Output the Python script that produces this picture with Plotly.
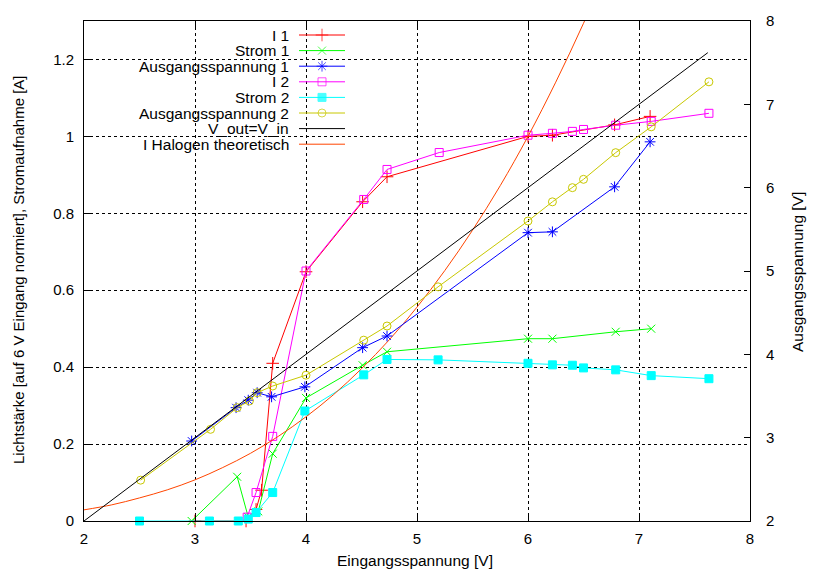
import plotly.graph_objects as go

# ---------------- data ----------------
i1_x = [3.0, 3.46, 3.55, 3.6, 3.70, 4.0, 4.51, 4.73, 6.0, 6.22, 6.78, 7.1]
i1_y = [0.0, 0.0, 0.03, 0.08, 0.41, 0.648, 0.83, 0.895, 1.0, 1.003, 1.03, 1.052]

s1_x = [2.97, 3.38, 3.48, 3.57, 3.70, 4.0, 4.51, 4.73, 6.0, 6.22, 6.79, 7.11]
s1_y = [0.0, 0.115, 0.01, 0.025, 0.175, 0.32, 0.405, 0.44, 0.474, 0.474, 0.492, 0.5]

a1_x = [2.97, 3.37, 3.48, 3.56, 3.69, 3.99, 4.51, 4.73, 6.0, 6.22, 6.78, 7.1]
a1_y = [2.96, 3.36, 3.45, 3.54, 3.49, 3.61, 4.08, 4.22, 5.46, 5.47, 6.01, 6.55]

i2_x = [3.42, 3.47, 3.55, 3.70, 4.0, 4.52, 4.73, 5.2, 6.0, 6.22, 6.4, 6.5, 6.79, 7.11, 7.63]
i2_y = [-0.03, 0.01, 0.074, 0.22, 0.65, 0.836, 0.914, 0.958, 1.003, 1.008, 1.013, 1.018, 1.029, 1.039, 1.06]

s2_x = [2.5, 3.13, 3.39, 3.48, 3.55, 3.70, 3.99, 4.52, 4.73, 5.19, 6.0, 6.22, 6.4, 6.5, 6.79, 7.11, 7.63]
s2_y = [0.0, 0.0, 0.0, 0.005, 0.022, 0.074, 0.286, 0.38, 0.42, 0.419, 0.41, 0.406, 0.405, 0.398, 0.393, 0.378, 0.37]

a2_x = [2.51, 3.14, 3.38, 3.49, 3.56, 3.70, 4.0, 4.52, 4.73, 5.19, 6.0, 6.22, 6.4, 6.5, 6.79, 7.11, 7.63]
a2_y = [2.49, 3.10, 3.36, 3.44, 3.54, 3.62, 3.75, 4.17, 4.34, 4.81, 5.6, 5.83, 6.0, 6.1, 6.42, 6.73, 7.27]

ident_x = [2.0, 7.62]
ident_y = [2.0, 7.62]

hal_x = [2.0, 2.25, 2.5, 2.75, 3.0, 3.25, 3.5, 3.75, 4.0, 4.25, 4.5, 4.75,
         5.0, 5.25, 5.5, 5.75, 6.0, 6.25, 6.5, 6.75]
hal_y = [0.029, 0.042, 0.060, 0.081, 0.107, 0.139, 0.176, 0.220, 0.271, 0.329, 0.396, 0.471,
         0.556, 0.651, 0.756, 0.872, 1.0, 1.141, 1.294, 1.46]

y_ticks = [0, 0.2, 0.4, 0.6, 0.8, 1.0, 1.2]
y_ticklabels = ["0", "0.2", "0.4", "0.6", "0.8", "1", "1.2"]
x_ticks = [2, 3, 4, 5, 6, 7, 8]
y2_ticks = [2, 3, 4, 5, 6, 7, 8]

# ---------------- styles ----------------
FONT = "Liberation Sans"
FS = 15
FS_KEY = 15.5
RED = "#ff0000"
GREEN = "#00ff00"
BLUE = "#0000ff"
MAGENTA = "#ff00ff"
CYAN = "#00ffff"
YELLOW = "#c8c800"
BLACK = "#000000"
ORANGE = "#ff4500"

W, H = 814, 570
L, R, T, B = 84, 64, 21, 49
PW, PH = W - L - R, H - T - B


def px(xp):
    return (xp - L) / PW


def py(yp):
    return (H - B - yp) / PH


series = [
    ("I 1", i1_x, i1_y, "y", RED, "cross-thin-open", 9),
    ("Strom 1", s1_x, s1_y, "y", GREEN, "x-thin-open", 8),
    ("Ausgangsspannung 1", a1_x, a1_y, "y2", BLUE, "asterisk-open", 9),
    ("I 2", i2_x, i2_y, "y", MAGENTA, "square-open", 8),
    ("Strom 2", s2_x, s2_y, "y", CYAN, "square", 8),
    ("Ausgangsspannung 2", a2_x, a2_y, "y2", YELLOW, "circle-open", 8),
]

fig = go.Figure()

for name, xs, ys, ax, col, sym, sz in series:
    fig.add_trace(go.Scatter(
        x=xs, y=ys, yaxis=ax, name=name, mode="lines+markers",
        line=dict(color=col, width=1),
        marker=dict(symbol=sym, size=sz, color=col, line=dict(color=col, width=1)),
        cliponaxis=(name == "I 2"), showlegend=False,
    ))

fig.add_trace(go.Scatter(x=ident_x, y=ident_y, yaxis="y2", name="V_out=V_in",
                         mode="lines", line=dict(color=BLACK, width=1), showlegend=False))
fig.add_trace(go.Scatter(x=hal_x, y=hal_y, yaxis="y", name="I Halogen theoretisch",
                         mode="lines", line=dict(color=ORANGE, width=1, shape="spline"),
                         showlegend=False))

# ---------------- custom gnuplot-style key (text left, sample right) ----------------
legend_rows = [
    ("I 1", RED, "cross-thin-open", 9),
    ("Strom 1", GREEN, "x-thin-open", 8),
    ("Ausgangsspannung 1", BLUE, "asterisk-open", 9),
    ("I 2", MAGENTA, "square-open", 8),
    ("Strom 2", CYAN, "square", 8),
    ("Ausgangsspannung 2", YELLOW, "circle-open", 8),
    ("V_out=V_in", BLACK, None, 0),
    ("I Halogen theoretisch", ORANGE, None, 0),
]
row0, row_step = 35.0, 15.6
annotations = []
for k, (label, col, sym, sz) in enumerate(legend_rows):
    yy = row0 + k * row_step
    fig.add_trace(go.Scatter(
        x=[299, 322, 345], y=[yy, yy, yy], xaxis="x3", yaxis="y3",
        mode="lines+markers" if sym else "lines",
        line=dict(color=col, width=1),
        marker=dict(symbol=sym or "circle", size=[0, sz, 0], color=col,
                    line=dict(color=col, width=1)),
        showlegend=False, hoverinfo="skip", cliponaxis=False,
    ))
    annotations.append(dict(
        x=290, y=yy, xref="x3", yref="y3", text=label, showarrow=False,
        xanchor="right", yanchor="middle", borderpad=0,
        font=dict(family=FONT, size=FS_KEY, color=BLACK),
    ))

# axis titles as annotations for exact placement
annotations.append(dict(x=px(415), y=py(560), xref="paper", yref="paper",
                        text="Eingangsspannung [V]", showarrow=False,
                        xanchor="center", yanchor="middle",
                        font=dict(family=FONT, size=FS_KEY, color=BLACK)))
annotations.append(dict(x=px(18), y=py(270), xref="paper", yref="paper",
                        text="Lichtstärke [auf 6 V Eingang normiert], Stromaufnahme [A]",
                        showarrow=False, textangle=-90,
                        xanchor="center", yanchor="middle",
                        font=dict(family=FONT, size=FS, color=BLACK)))
annotations.append(dict(x=px(797), y=py(272), xref="paper", yref="paper",
                        text="Ausgangsspannung [V]", showarrow=False, textangle=-90,
                        xanchor="center", yanchor="middle",
                        font=dict(family=FONT, size=FS_KEY, color=BLACK)))

axis_common = dict(
    ticks="inside", ticklen=6, tickwidth=1, tickcolor=BLACK,
    showline=True, linecolor=BLACK, linewidth=1,
    tickfont=dict(family=FONT, size=FS, color=BLACK),
    zeroline=False, automargin=False,
)

fig.update_layout(
    width=W, height=H,
    margin=dict(l=L, r=R, t=T, b=B, autoexpand=False),
    paper_bgcolor="white", plot_bgcolor="white",
    font=dict(family=FONT, size=FS, color=BLACK),
    showlegend=False,
    xaxis=dict(
        range=[2, 8], tickvals=x_ticks, mirror="ticks",
        showgrid=True, gridcolor=BLACK, gridwidth=1, griddash="3px,3px",
        ticklabelstandoff=4,
        **axis_common,
    ),
    yaxis=dict(
        range=[0, 1.3], tickvals=y_ticks, ticktext=y_ticklabels,
        showgrid=True, gridcolor=BLACK, gridwidth=1, griddash="3px,3px",
        ticklabelstandoff=6,
        **axis_common,
    ),
    yaxis2=dict(
        range=[2, 8], tickvals=y2_ticks, overlaying="y", side="right",
        showgrid=False, ticklabelstandoff=12,
        **axis_common,
    ),
    xaxis3=dict(range=[L, W - R], overlaying="x", anchor="y3", visible=False),
    yaxis3=dict(range=[H - B, T], overlaying="y", anchor="x3", visible=False),
    annotations=annotations,
)

fig.write_html(
    "out.html",
    config={"displayModeBar": False},
    post_script="document.body.style.margin='0';document.body.style.overflow='hidden';",
)
